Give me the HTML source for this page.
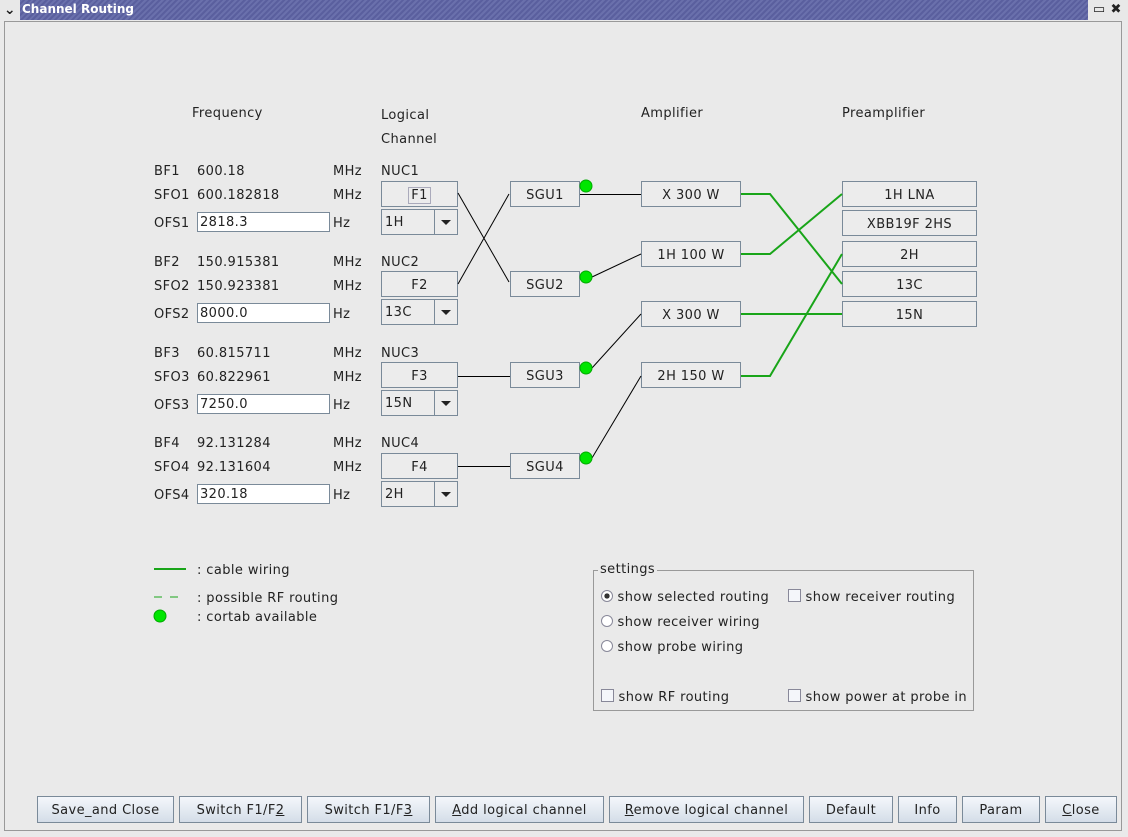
<!DOCTYPE html>
<html><head><style>
body{margin:0;width:1128px;height:837px;overflow:hidden;background:#eaeaea;font-family:"DejaVu Sans",sans-serif;font-size:13px;color:#222;position:relative;letter-spacing:0.4px}
.a{position:absolute;white-space:nowrap}
.t{position:absolute;white-space:nowrap;line-height:20px;padding-top:2px}
.box{position:absolute;border:1px solid #7a8a99;background:#ececec;text-align:center;line-height:27px;box-sizing:border-box;height:26px}
.in{position:absolute;border:1px solid #7a8a99;background:#fff;box-sizing:border-box;height:20px;width:133px;line-height:20px;padding-left:2px}
.cb{position:absolute;border:1px solid #7a8a99;box-sizing:border-box;width:77px;height:26px;background:#ececec}
.cb span{position:absolute;left:3px;top:3px;line-height:20px}
.cb i{position:absolute;right:0;top:0;width:22px;height:24px;border-left:1px solid #7a8a99}
.cb i:after{content:"";position:absolute;left:6px;top:10px;border:5px solid transparent;border-top:5px solid #222}
.btn{position:absolute;top:796px;height:27px;box-sizing:border-box;border:1px solid #7a8a99;background:linear-gradient(#f4f7fb,#d4dde8);text-align:center;line-height:27px}
.t .in{position:static;display:inline-block}
</style></head><body>
<div class="a" style="left:0;top:0;width:1128px;height:20px;background:repeating-linear-gradient(135deg,#5a5f9e 0 2px,#6a70ac 2px 4px)"></div>
<div class="a" style="left:0;top:0;width:20px;height:20px;background:#e8e8e8;font-weight:bold;font-size:14px;line-height:20px;text-align:center">⌄</div>
<div class="a" style="left:22px;top:2px;color:#fff;font-weight:bold;font-size:12px;letter-spacing:0">Channel Routing</div>
<div class="a" style="left:1088px;top:0;width:40px;height:20px;background:#e8e8e8;font-size:13px;line-height:20px;font-weight:bold">&nbsp;▭ ✖</div>
<div class="a" style="left:4px;top:21px;width:1118px;height:810px;border:1px solid #999;box-sizing:border-box"></div>

<div class="t" style="left:192px;top:102px">Frequency</div>
<div class="t" style="left:381px;top:104px">Logical</div>
<div class="t" style="left:381px;top:128px">Channel</div>
<div class="t" style="left:641px;top:102px">Amplifier</div>
<div class="t" style="left:842px;top:102px">Preamplifier</div>

<div class="t" style="left:154px;top:160px">BF1</div><div class="t" style="left:197px;top:160px">600.18</div><div class="t" style="left:333px;top:160px">MHz</div><div class="t" style="left:381px;top:160px">NUC1</div>
<div class="t" style="left:154px;top:184px">SFO1</div><div class="t" style="left:197px;top:184px">600.182818</div><div class="t" style="left:333px;top:184px">MHz</div>
<div class="t" style="left:154px;top:212px">OFS1</div><div class="in" style="left:197px;top:212px">2818.3</div><div class="t" style="left:333px;top:212px">Hz</div>
<div class="box" style="left:381px;top:181px;width:77px"><span style="border:1px solid #aab;padding:0 2px">F1</span></div>
<div class="cb" style="left:381px;top:209px"><span>1H</span><i></i></div>

<div class="t" style="left:154px;top:251px">BF2</div><div class="t" style="left:197px;top:251px">150.915381</div><div class="t" style="left:333px;top:251px">MHz</div><div class="t" style="left:381px;top:251px">NUC2</div>
<div class="t" style="left:154px;top:275px">SFO2</div><div class="t" style="left:197px;top:275px">150.923381</div><div class="t" style="left:333px;top:275px">MHz</div>
<div class="t" style="left:154px;top:303px">OFS2</div><div class="in" style="left:197px;top:303px">8000.0</div><div class="t" style="left:333px;top:303px">Hz</div>
<div class="box" style="left:381px;top:271px;width:77px">F2</div>
<div class="cb" style="left:381px;top:299px"><span>13C</span><i></i></div>

<div class="t" style="left:154px;top:342px">BF3</div><div class="t" style="left:197px;top:342px">60.815711</div><div class="t" style="left:333px;top:342px">MHz</div><div class="t" style="left:381px;top:342px">NUC3</div>
<div class="t" style="left:154px;top:366px">SFO3</div><div class="t" style="left:197px;top:366px">60.822961</div><div class="t" style="left:333px;top:366px">MHz</div>
<div class="t" style="left:154px;top:394px">OFS3</div><div class="in" style="left:197px;top:394px">7250.0</div><div class="t" style="left:333px;top:394px">Hz</div>
<div class="box" style="left:381px;top:362px;width:77px">F3</div>
<div class="cb" style="left:381px;top:390px"><span>15N</span><i></i></div>

<div class="t" style="left:154px;top:432px">BF4</div><div class="t" style="left:197px;top:432px">92.131284</div><div class="t" style="left:333px;top:432px">MHz</div><div class="t" style="left:381px;top:432px">NUC4</div>
<div class="t" style="left:154px;top:456px">SFO4</div><div class="t" style="left:197px;top:456px">92.131604</div><div class="t" style="left:333px;top:456px">MHz</div>
<div class="t" style="left:154px;top:484px">OFS4</div><div class="in" style="left:197px;top:484px">320.18</div><div class="t" style="left:333px;top:484px">Hz</div>
<div class="box" style="left:381px;top:453px;width:77px">F4</div>
<div class="cb" style="left:381px;top:481px"><span>2H</span><i></i></div>

<div class="box" style="left:510px;top:181px;width:70px">SGU1</div>
<div class="box" style="left:510px;top:271px;width:70px">SGU2</div>
<div class="box" style="left:510px;top:362px;width:70px">SGU3</div>
<div class="box" style="left:510px;top:453px;width:70px">SGU4</div>

<div class="box" style="left:641px;top:181px;width:100px">X 300 W</div>
<div class="box" style="left:641px;top:241px;width:100px">1H 100 W</div>
<div class="box" style="left:641px;top:301px;width:100px">X 300 W</div>
<div class="box" style="left:641px;top:362px;width:100px">2H 150 W</div>

<div class="box" style="left:842px;top:181px;width:135px">1H LNA</div>
<div class="box" style="left:842px;top:210px;width:135px">XBB19F 2HS</div>
<div class="box" style="left:842px;top:241px;width:135px">2H</div>
<div class="box" style="left:842px;top:271px;width:135px">13C</div>
<div class="box" style="left:842px;top:301px;width:135px">15N</div>

<svg class="a" style="left:0;top:0" width="1128" height="837">
<g stroke="#000" stroke-width="1" fill="none">
<line x1="458" y1="193" x2="509" y2="282"/><line x1="458" y1="284" x2="509" y2="194"/>
<line x1="580" y1="194.5" x2="641" y2="194.5"/><line x1="592" y1="277" x2="641" y2="254"/>
<line x1="592" y1="368" x2="641" y2="314"/><line x1="592" y1="458" x2="641" y2="376"/>
<line x1="458" y1="376.5" x2="510" y2="376.5"/><line x1="458" y1="466.5" x2="510" y2="466.5"/>
</g>
<g stroke="#19a519" stroke-width="2" fill="none">
<polyline points="741,194 770,194 842,284"/><polyline points="741,254 770,254 842,194"/>
<polyline points="741,314 842,314"/><polyline points="741,376 770,376 842,254"/>
<line x1="154" y1="569" x2="186" y2="569"/>
<line x1="154" y1="597" x2="162" y2="597" stroke-width="1"/><line x1="170" y1="597" x2="178" y2="597" stroke-width="1"/>
</g>
<g fill="#00e600" stroke="#0a0" stroke-width="1">
<circle cx="586" cy="186" r="6"/><circle cx="586" cy="277" r="6"/><circle cx="586" cy="368" r="6"/><circle cx="586" cy="458" r="6"/>
<circle cx="160" cy="616" r="6"/>
</g>
</svg>
<div class="t" style="left:197px;top:559px">: cable wiring</div>
<div class="t" style="left:197px;top:587px">: possible RF routing</div>
<div class="t" style="left:197px;top:606px">: cortab available</div>

<div class="a" style="left:593px;top:570px;width:381px;height:141px;border:1px solid #999;box-sizing:border-box"></div>
<div class="t" style="left:598px;top:560px;background:#eaeaea;padding:0 2px">settings</div>
<div class="t" style="left:601px;top:586px"><span style="display:inline-block;width:10px;height:10px;border:1px solid #889;border-radius:50%;background:radial-gradient(#333 35%,#fff 40%);vertical-align:-1px"></span> show selected routing</div>
<div class="t" style="left:601px;top:611px"><span style="display:inline-block;width:10px;height:10px;border:1px solid #889;border-radius:50%;background:#fff;vertical-align:-1px"></span> show receiver wiring</div>
<div class="t" style="left:601px;top:636px"><span style="display:inline-block;width:10px;height:10px;border:1px solid #889;border-radius:50%;background:#fff;vertical-align:-1px"></span> show probe wiring</div>
<div class="t" style="left:788px;top:586px"><span style="display:inline-block;width:11px;height:11px;border:1px solid #889;background:#f4f6fa;vertical-align:-1px"></span> show receiver routing</div>
<div class="t" style="left:601px;top:686px"><span style="display:inline-block;width:11px;height:11px;border:1px solid #889;background:#f4f6fa;vertical-align:-1px"></span> show RF routing</div>
<div class="t" style="left:788px;top:686px"><span style="display:inline-block;width:11px;height:11px;border:1px solid #889;background:#f4f6fa;vertical-align:-1px"></span> show power at probe in</div>

<div class="btn" style="left:37px;width:137px">Save_and Close</div>
<div class="btn" style="left:179px;width:123px">Switch F1/F<u>2</u></div>
<div class="btn" style="left:307px;width:123px">Switch F1/F<u>3</u></div>
<div class="btn" style="left:435px;width:169px"><u>A</u>dd logical channel</div>
<div class="btn" style="left:609px;width:195px"><u>R</u>emove logical channel</div>
<div class="btn" style="left:809px;width:84px">Default</div>
<div class="btn" style="left:898px;width:59px">Info</div>
<div class="btn" style="left:962px;width:78px">Param</div>
<div class="btn" style="left:1045px;width:72px"><u>C</u>lose</div>
</body></html>
